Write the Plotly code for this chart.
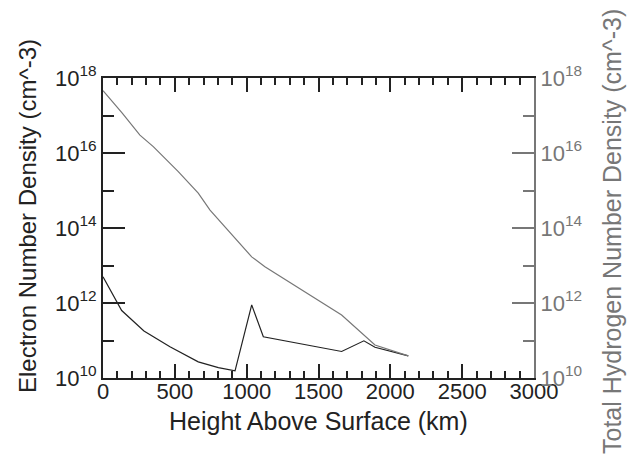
import plotly.graph_objects as go

# Electron number density (black)
electron_height = [0, 130, 285, 466, 663, 803, 919, 1035, 1116, 1661, 1816, 1893, 2125]
electron_density = [5.0e12, 6.3e11, 1.8e11, 6.8e10, 2.7e10, 1.9e10, 1.55e10, 8.9e11,
                    1.26e11, 5.1e10, 9.8e10, 6.6e10, 3.9e10]

# Total hydrogen number density (gray)
hydrogen_height = [0, 134, 257, 350, 524, 663, 745, 837, 953, 1035, 1127, 1267, 1661, 1893, 2125]
hydrogen_density = [4.6e17, 1.15e17, 3.0e16, 1.48e16, 3.2e15, 8.5e14, 3.0e14, 1.2e14,
                    3.9e13, 1.7e13, 9.3e12, 4.3e12, 4.8e11, 7.6e10, 3.9e10]

major_y = [1e10, 1e12, 1e14, 1e16, 1e18]
major_y_text = ["10<sup>10</sup>", "10<sup>12</sup>", "10<sup>14</sup>",
                "10<sup>16</sup>", "10<sup>18</sup>"]
minor_y = [1e11, 1e13, 1e15, 1e17]

BLACK = "#222222"
GRAY = "#777777"
FONT = "Liberation Sans, Arial, sans-serif"

fig = go.Figure()
fig.add_trace(go.Scatter(x=hydrogen_height, y=hydrogen_density, mode="lines",
                         line=dict(color=GRAY, width=1.2), yaxis="y2", showlegend=False))
fig.add_trace(go.Scatter(x=electron_height, y=electron_density, mode="lines",
                         line=dict(color=BLACK, width=1.2), showlegend=False))

fig.update_layout(
    width=642, height=460,
    margin=dict(l=95, r=116, t=70, b=90),
    paper_bgcolor="white", plot_bgcolor="white",
    font=dict(family=FONT, size=22, color=BLACK),
    xaxis=dict(range=[0, 3000], dtick=500, tick0=0, showgrid=False, zeroline=False,
               automargin=False, ticklabelstandoff=-7,
               showline=True, linecolor=BLACK, linewidth=2, mirror="ticks",
               ticks="inside", ticklen=14, tickwidth=2, tickcolor=BLACK,
               minor=dict(dtick=100, tick0=0, ticks="inside", ticklen=7, tickwidth=2,
                          tickcolor=BLACK, showgrid=False),
               tickfont=dict(size=22, color=BLACK)),
    yaxis=dict(type="log", range=[10, 18], tickmode="array", tickvals=major_y,
               ticktext=major_y_text, automargin=False,
               showgrid=False, zeroline=False,
               showline=True, linecolor=BLACK, linewidth=2,
               ticks="inside", ticklen=22, tickwidth=2, tickcolor=BLACK,
               minor=dict(tickmode="array", tickvals=minor_y, ticks="inside", ticklen=11,
                          tickwidth=2, tickcolor=BLACK, showgrid=False),
               tickfont=dict(size=22, color=BLACK)),
    yaxis2=dict(type="log", range=[10, 18], overlaying="y", side="right",
                tickmode="array", tickvals=major_y, ticktext=major_y_text,
                automargin=False,
                showgrid=False, zeroline=False,
                showline=True, linecolor=GRAY, linewidth=2,
                ticks="inside", ticklen=22, tickwidth=2, tickcolor=GRAY,
                minor=dict(tickmode="array", tickvals=minor_y, ticks="inside", ticklen=11,
                           tickwidth=2, tickcolor=GRAY, showgrid=False),
                tickfont=dict(size=22, color=GRAY)),
    annotations=[
        dict(text="Height Above Surface (km)", xref="paper", yref="paper",
             x=0.5, y=0, xanchor="center", yanchor="middle", xshift=0, yshift=-43,
             showarrow=False, font=dict(size=25, color=BLACK)),
        dict(text="Electron Number Density (cm^-3)", xref="paper", yref="paper",
             x=0, y=0.5, xanchor="center", yanchor="middle", xshift=-76, yshift=12,
             textangle=-90, showarrow=False, font=dict(size=24, color=BLACK)),
        dict(text="Total Hydrogen Number Density (cm^-3)", xref="paper", yref="paper",
             x=1, y=0.5, xanchor="center", yanchor="middle", xshift=78, yshift=-4,
             textangle=-90, showarrow=False, font=dict(size=25, color=GRAY)),
    ],
)

fig.write_html("out.html")
